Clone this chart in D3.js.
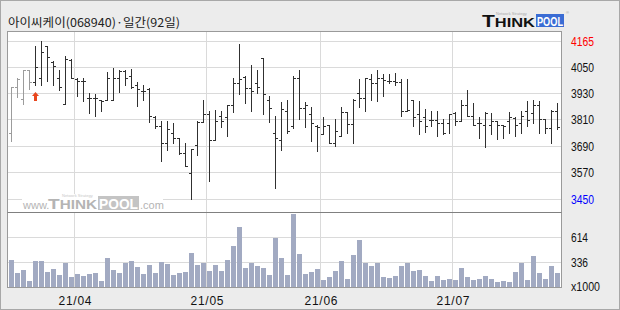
<!DOCTYPE html>
<html>
<head>
<meta charset="utf-8">
<script src="https://cdn.jsdelivr.net/npm/d3@7"></script>
<style>
body { margin: 0; background: #ececec; }
svg { display: block; }
text { font-family: 'Liberation Sans', 'Noto Sans CJK KR', sans-serif; }
</style>
</head>
<body>
<svg width="620" height="310"></svg>
<script>
// chart values
var title = '아이씨케이(068940)·일간(92일)';
var monthLabels = ['21/03', '21/04', '21/05', '21/06', '21/07'];
var monthDays = [11, 22, 19, 22, 18];

var open = [3748,3957,3903,4033,3979,3998,4145,4070,3998,3879,4079,3991,3983,3905,3905,3900,3900,3897,3998,4029,
  4006,3964,3938,3948,3821,3780,3700,3748,3726,3657,3567,3695,3800,3832,3714,3824,3821,3873,3973,4003,
  3953,3973,4089,3900,3748,3715,3847,3779,3998,3862,3836,3779,3745,3782,3700,3736,3842,3789,3930,3905,
  3994,3973,3998,3983,3983,3979,3850,3900,3836,3821,3806,3808,3791,3794,3839,3801,3873,3824,3791,3786,
  3782,3801,3782,3801,3817,3791,3847,3839,3873,3812,3771,3847];
var high = [3957,3998,4033,4033,4145,4165,4145,4074,4036,4100,4082,3998,3998,3930,3923,3900,4024,4044,4036,4033,
  4039,3979,3968,3953,3827,3801,3801,3794,3726,3703,3673,3801,3896,3850,3854,3850,3873,3998,4154,4009,
  4059,4036,4089,3918,3827,3888,3897,4006,4036,3888,3867,3782,3821,3786,3812,3867,3842,3903,3994,3998,
  4014,4036,4018,4018,4021,3991,3991,3900,3892,3855,3847,3847,3812,3832,3842,3897,3942,3885,3821,3842,
  3839,3801,3786,3842,3821,3847,3892,3897,3892,3812,3852,3882];
var low = [3711,3910,3879,3948,3968,3968,3983,3968,3942,3879,3998,3918,3892,3839,3824,3847,3900,3897,3933,3964,
  3953,3870,3897,3797,3770,3620,3669,3703,3654,3600,3450,3646,3800,3529,3714,3776,3736,3842,3926,3882,
  3850,3930,3832,3797,3498,3670,3748,3771,3812,3776,3711,3664,3745,3700,3688,3736,3748,3703,3867,3847,
  3900,3892,3915,3973,3964,3827,3850,3779,3741,3751,3779,3733,3745,3748,3786,3801,3824,3782,3726,3685,
  3741,3721,3726,3748,3733,3748,3779,3791,3748,3748,3703,3764];
var close = [3957,3994,4033,3979,4048,4115,4094,4054,3957,4082,3998,3983,3983,3905,3905,3892,3998,3998,4029,3998,
  3957,3948,3938,3824,3780,3700,3768,3725,3657,3600,3673,3800,3832,3714,3801,3801,3873,3973,3991,3953,
  3938,3957,3923,3862,3726,3855,3756,3998,3862,3873,3791,3776,3779,3700,3756,3842,3789,3900,3905,3998,
  3973,3998,3988,3983,3980,3850,3852,3821,3801,3779,3806,3791,3748,3832,3801,3877,3824,3782,3794,3839,
  3801,3786,3779,3821,3786,3827,3806,3877,3812,3771,3847,3776];
var volume = [358,217,247,128,347,347,228,258,191,328,169,203,180,203,217,128,380,247,217,328,
  347,284,206,303,217,336,317,195,217,228,440,303,328,236,303,236,358,514,728,273,
  328,292,273,191,603,380,191,870,428,206,225,258,136,169,236,347,147,414,581,328,
  292,328,169,158,180,292,325,236,247,180,125,180,136,147,136,269,169,136,147,180,
  147,114,125,114,225,325,136,403,214,147,292,214];

var priceTicks = [4165, 4050, 3930, 3810, 3690, 3570, 3450];
var volumeTicks = [614, 336];
var volumeUnit = 'x1000';
var greyDays = 4;    // first bars drawn lighter
var signalDay = 4;   // red arrow under this bar

var App = {};

App.main = function() {
  App.svg = d3.select('svg');
  App.left = 7.5;
  App.right = 561.5;
  App.top = 31.5;
  App.mid = 212.5;
  App.bottom = 287.5;

  App.x = d3.scaleBand().domain(d3.range(volume.length))
    .range([8.5, 560.5]).paddingInner(1 / 6).paddingOuter(1 / 12);
  App.y = d3.scaleLinear().domain([3450, 4050]).range([199, 67]);
  App.yv = d3.scaleLinear().domain([58, 892]).range([287, 212]);

  App.initFrame();
  App.initGrid();
  App.initWatermark();
  App.initBars();
  App.initLabels();
  App.initLogo();
}

App.initFrame = function() {
  var svg = App.svg;
  svg.append('rect').attr('x', 0.5).attr('y', 0.5).attr('width', 619).attr('height', 309)
    .attr('fill', '#ececec').attr('stroke', '#a8a8a8');
  svg.append('rect').attr('x', App.left).attr('y', App.top)
    .attr('width', App.right - App.left).attr('height', App.bottom - App.top)
    .attr('fill', '#fff');
}

App.initGrid = function() {
  var svg = App.svg, g = svg.append('g').attr('stroke', '#dadada');

  g.selectAll('.hp').data(priceTicks).enter().append('line')
    .attr('x1', App.left).attr('x2', App.right)
    .attr('y1', function(d) { return Math.floor(App.y(d)) + 0.5; })
    .attr('y2', function(d) { return Math.floor(App.y(d)) + 0.5; });

  g.selectAll('.hv').data(volumeTicks).enter().append('line')
    .attr('x1', App.left).attr('x2', App.right)
    .attr('y1', function(d) { return Math.round(App.yv(d)) + 0.5; })
    .attr('y2', function(d) { return Math.round(App.yv(d)) + 0.5; });

  // month starts
  App.months = [];
  var start = 0;
  monthDays.forEach(function(n, k) {
    if (k > 0) App.months.push({ label: monthLabels[k], x: App.x(start) - 0.5 });
    start += n;
  });
  g.selectAll('.vm').data(App.months).enter().append('line')
    .attr('x1', function(d) { return d.x; }).attr('x2', function(d) { return d.x; })
    .attr('y1', App.top).attr('y2', App.bottom);

  var b = svg.append('g').attr('stroke', '#9a9a9a').attr('fill', 'none');
  b.append('rect').attr('x', App.left).attr('y', App.top)
    .attr('width', App.right - App.left).attr('height', App.bottom - App.top);
  b.append('line').attr('x1', App.left).attr('x2', App.right)
    .attr('y1', App.mid).attr('y2', App.mid).attr('stroke', '#808080');
}

App.initWatermark = function() {
  var g = App.svg.append('g');
  g.append('rect').attr('x', 22).attr('y', 194).attr('width', 141).attr('height', 18).attr('fill', '#fff');
  g.append('text').text('www.').attr('x', 23).attr('y', 209)
    .attr('font-size', 11).attr('fill', '#b4b4b4');
  g.append('text').attr('x', 48).attr('y', 209).attr('font-weight', 'bold').attr('fill', '#b4b4b4')
    .attr('textLength', 49).attr('lengthAdjust', 'spacingAndGlyphs')
    .call(function(t) {
      t.append('tspan').text('T').attr('font-size', 15);
      t.append('tspan').text('HINK').attr('font-size', 12);
    });
  g.append('rect').attr('x', 98).attr('y', 196).attr('width', 41).attr('height', 14).attr('fill', '#c4c4c4');
  g.append('text').text('POOL').attr('x', 99).attr('y', 209).attr('font-size', 14)
    .attr('font-weight', 'bold').attr('fill', '#fff')
    .attr('textLength', 39).attr('lengthAdjust', 'spacingAndGlyphs');
  g.append('text').text('.com').attr('x', 140).attr('y', 209)
    .attr('font-size', 11).attr('fill', '#b4b4b4');
  g.append('text').text('Network  Strategy').attr('x', 62).attr('y', 197)
    .attr('font-size', 4).attr('fill', '#c8c8c8');
}

App.initBars = function() {
  var x = App.x, y = App.y, yv = App.yv;
  var days = d3.range(volume.length);
  var px = function(i) { return x(i) + 2.5; };
  var py = function(v) { return Math.floor(y(v)) + 0.5; };

  App.svg.append('g').attr('fill', '#a2aac2')
    .selectAll('rect').data(days).enter().append('rect')
    .attr('x', function(i) { return x(i); })
    .attr('width', x.bandwidth())
    .attr('y', function(i) { return Math.round(yv(volume[i])); })
    .attr('height', function(i) { return 287 - Math.round(yv(volume[i])); });

  var bars = App.svg.append('g').selectAll('g').data(days).enter().append('g')
    .attr('stroke', function(i) { return i < greyDays ? '#9c9c9c' : '#303030'; });
  bars.append('line')
    .attr('x1', px).attr('x2', px)
    .attr('y1', function(i) { return Math.floor(y(high[i])); })
    .attr('y2', function(i) { return Math.floor(y(low[i])) + 1; });
  bars.append('line')
    .attr('x1', function(i) { return x(i); }).attr('x2', px)
    .attr('y1', function(i) { return py(open[i]); })
    .attr('y2', function(i) { return py(open[i]); });
  bars.append('line')
    .attr('x1', px).attr('x2', function(i) { return x(i) + 5; })
    .attr('y1', function(i) { return py(close[i]); })
    .attr('y2', function(i) { return py(close[i]); });

  var cx = px(signalDay), ty = Math.round(y(low[signalDay])) + 7;
  App.svg.append('path')
    .attr('d', 'M' + (cx - 3.5) + ',' + (ty + 4) + 'L' + cx + ',' + ty + 'L' + (cx + 3.5) + ',' + (ty + 4) +
      'H' + (cx + 1.5) + 'V' + (ty + 9) + 'H' + (cx - 1.5) + 'V' + (ty + 4) + 'Z')
    .attr('fill', '#e8461e');
}

App.initLabels = function() {
  var svg = App.svg;
  svg.append('text').text(title).attr('x', 8).attr('y', 27)
    .attr('font-size', 12).attr('fill', '#222')
    .attr('textLength', 172).attr('lengthAdjust', 'spacingAndGlyphs')
    .style('font-family', "'Noto Sans CJK KR', sans-serif");

  svg.selectAll('.pl').data(priceTicks).enter().append('text')
    .text(function(d) { return d; })
    .attr('x', 571).attr('y', function(d) { return App.y(d) + 4.5; })
    .attr('font-size', 12)
    .attr('textLength', 23).attr('lengthAdjust', 'spacingAndGlyphs')
    .attr('fill', function(d, k) { return k == 0 ? '#f00' : (k == priceTicks.length - 1 ? '#00f' : '#111'); });

  svg.selectAll('.vl').data(volumeTicks).enter().append('text')
    .text(function(d) { return d; })
    .attr('x', 571).attr('y', function(d) { return App.yv(d) + 5; })
    .attr('font-size', 12).attr('fill', '#111')
    .attr('textLength', 17).attr('lengthAdjust', 'spacingAndGlyphs');
  svg.append('text').text(volumeUnit).attr('x', 571).attr('y', 291)
    .attr('font-size', 12).attr('fill', '#111')
    .attr('textLength', 29).attr('lengthAdjust', 'spacingAndGlyphs');

  svg.selectAll('.ml').data(App.months).enter().append('text')
    .text(function(d) { return d.label; })
    .attr('x', function(d) { return d.x - 16; }).attr('y', 305)
    .attr('font-size', 12).attr('fill', '#111')
    .attr('textLength', 33).attr('lengthAdjust', 'spacing');
}

App.initLogo = function() {
  var g = App.svg.append('g');
  g.append('text').text('Network  Strategy').attr('x', 496).attr('y', 15)
    .attr('font-size', 4).attr('fill', '#aaa');
  g.append('text').attr('x', 482).attr('y', 27).attr('font-weight', 'bold').attr('fill', '#111')
    .attr('textLength', 53).attr('lengthAdjust', 'spacingAndGlyphs')
    .call(function(t) {
      t.append('tspan').text('T').attr('font-size', 16);
      t.append('tspan').text('HINK').attr('font-size', 12.5);
    });
  g.append('rect').attr('x', 536).attr('y', 14).attr('width', 28).attr('height', 13).attr('fill', '#3a6cd4');
  g.append('text').text('POOL').attr('x', 537).attr('y', 26).attr('font-size', 12)
    .attr('font-weight', 'bold').attr('fill', '#fff')
    .attr('textLength', 26).attr('lengthAdjust', 'spacingAndGlyphs');
  g.append('text').text('®').attr('x', 566).attr('y', 14).attr('font-size', 4).attr('fill', '#999');
}

App.main();
</script>
</body>
</html>
